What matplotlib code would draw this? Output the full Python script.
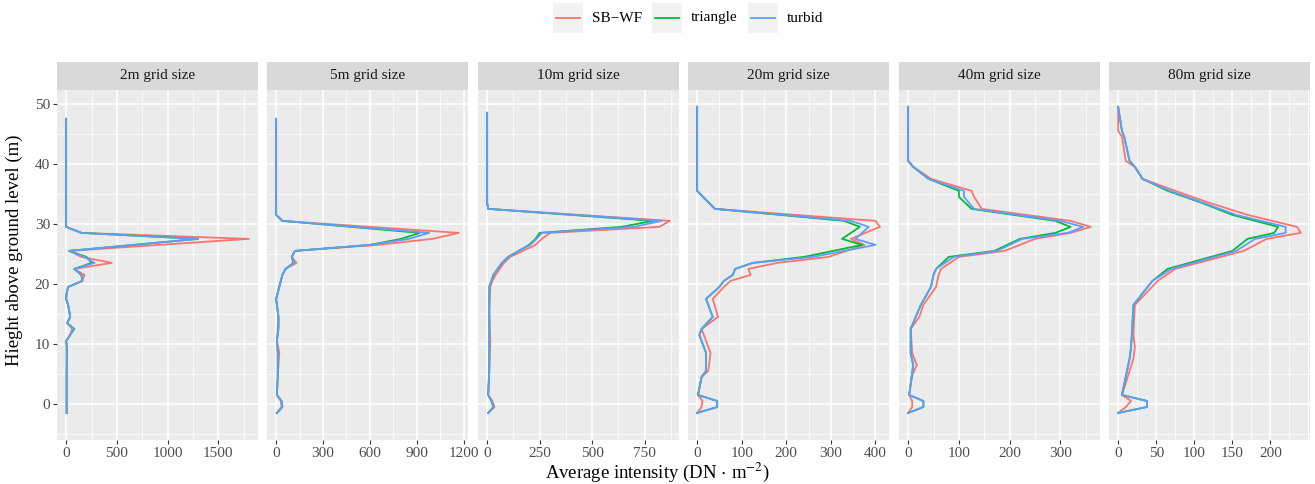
import numpy as np
import matplotlib.pyplot as plt
from matplotlib.ticker import MultipleLocator
from matplotlib.lines import Line2D
from matplotlib.patches import Rectangle

plt.rcParams["font.family"] = ["Liberation Serif", "DejaVu Serif"]
plt.rcParams["mathtext.fontset"] = "stix"
plt.rcParams["font.size"] = 11

series = ["SB\u2212WF", "triangle", "turbid"]
colors = ["#F8766D", "#00BA38", "#619CFF"]
panels = ["2m grid size", "5m grid size", "10m grid size",
          "20m grid size", "40m grid size", "80m grid size"]
xticks = [[0, 500, 1000, 1500], [0, 300, 600, 900, 1200], [0, 250, 500, 750],
          [0, 100, 200, 300, 400], [0, 100, 200, 300], [0, 50, 100, 150, 200]]

# 2m
h2 = [47.5, 29.5, 28.5, 27.5, 25.5, 24.5, 23.5, 22.5, 21.5, 20.5, 19.5, 18.5, 17.5,
      16.5, 15.5, 14.5, 13.5, 12.5, 11.5, 10.5, 9.5, 5, -0.5, -1.5]
v2_sb = [0, 0, 150, 1800, 30, 150, 450, 80, 180, 160, 20, 5, 0, 20, 30, 40, 10, 60, 40, 0, 10, 5, 5, 5]
v2_tr = [0, 0, 150, 1300, 30, 200, 250, 80, 150, 160, 20, 5, 0, 20, 30, 40, 10, 80, 40, 0, 5, 5, 5, 5]
v2_tu = [0, 0, 150, 1300, 30, 180, 280, 80, 150, 160, 20, 5, 0, 20, 30, 40, 10, 70, 40, 0, 5, 5, 5, 5]
# 5m
h5 = [47.5, 31.5, 30.5, 28.5, 27.5, 26.5, 25.5, 24.5, 23.5, 22.5, 21.5, 20.5, 19.5, 18.5,
      17.5, 14.5, 12.5, 10.5, 8.5, 4.5, 1.5, 0.5, -0.5, -1.5]
v5_sb = [0, 0, 40, 1170, 1000, 650, 120, 100, 130, 60, 40, 30, 20, 10, 0, 15, 10, 5, 20, 10, 5, 30, 35, 5]
v5_tr = [0, 0, 40, 920, 800, 600, 120, 100, 110, 60, 40, 30, 20, 10, 0, 15, 15, 5, 10, 10, 5, 35, 40, 5]
v5_tu = [0, 0, 40, 980, 850, 600, 120, 100, 115, 60, 40, 30, 20, 10, 0, 15, 15, 5, 10, 10, 5, 35, 40, 5]
# 10m
h10 = [48.5, 33.5, 32.5, 30.5, 29.5, 28.5, 27.5, 26.5, 25.5, 24.5, 23.5, 22.5, 21.5, 20.5,
       19.5, 15.5, 10.5, 5.5, 1.5, 0.5, -0.5, -1.5]
v10_sb = [0, 0, 5, 870, 820, 300, 260, 230, 170, 110, 80, 60, 40, 25, 15, 10, 15, 10, 5, 25, 35, 5]
v10_tr = [0, 0, 5, 790, 640, 250, 230, 200, 150, 100, 70, 50, 30, 20, 10, 10, 10, 10, 5, 20, 30, 5]
v10_tu = [0, 0, 5, 830, 700, 260, 235, 205, 150, 100, 70, 50, 30, 20, 10, 10, 10, 10, 5, 20, 30, 5]
# 20m
h20 = [49.5, 35.5, 32.5, 30.5, 29.5, 27.5, 26.5, 24.5, 23.5, 22.5, 21.5, 20.5, 19.5,
       17.5, 14.5, 12.5, 11.5, 8.5, 5.5, 4.5, 1.5, 0.5, -0.5, -1.5]
v20_sb = [0, 0, 40, 400, 410, 345, 375, 295, 180, 115, 120, 75, 60, 35, 47, 10, 15, 30, 25, 10, 2, 12, 10, 0]
v20_tr = [0, 0, 40, 330, 365, 325, 370, 240, 125, 85, 80, 60, 50, 20, 35, 10, 5, 20, 20, 10, 2, 45, 45, 0]
v20_tu = [0, 0, 40, 345, 385, 355, 400, 260, 125, 85, 80, 60, 50, 20, 35, 10, 5, 20, 20, 10, 2, 45, 45, 0]
# 40m
h40 = [49.5, 40.5, 39.5, 37.5, 35.5, 34.5, 32.5, 30.5, 29.5, 28.5, 27.5, 25.5, 24.5,
       22.5, 21.5, 19.5, 16.5, 14.5, 12.5, 8.5, 6.5, 4.5, 1.5, 0.5, -0.5, -1.5]
v40_sb = [0, 0, 10, 45, 125, 130, 145, 320, 360, 320, 250, 190, 100, 65, 60, 55, 30, 22, 5, 8, 17, 7, 2, 8, 8, 0]
v40_tr = [0, 0, 10, 40, 100, 100, 125, 290, 320, 290, 220, 170, 80, 55, 50, 45, 25, 15, 5, 5, 10, 7, 2, 30, 30, 0]
v40_tu = [0, 0, 10, 40, 110, 110, 130, 300, 345, 315, 225, 175, 90, 55, 50, 45, 25, 15, 5, 5, 10, 7, 2, 30, 30, 0]
# 80m
h80 = [49.5, 45.5, 44.5, 40.5, 39.5, 37.5, 35.5, 33.5, 31.5, 29.5, 28.5, 27.5, 25.5,
       22.5, 20.5, 16.5, 11.5, 9.5, 7.5, 1.5, 0.5, -0.5, -1.5]
v80_sb = [0, 0, 5, 10, 22, 32, 75, 120, 170, 235, 240, 195, 165, 75, 52, 22, 20, 22, 20, 5, 17, 10, 0]
v80_tr = [0, 5, 8, 15, 22, 32, 65, 110, 150, 210, 205, 170, 150, 65, 45, 20, 18, 17, 15, 5, 38, 38, 0]
v80_tu = [0, 5, 8, 15, 22, 32, 68, 112, 155, 220, 220, 180, 155, 70, 45, 20, 18, 17, 15, 5, 38, 38, 0]

heights = [h2, h5, h10, h20, h40, h80]
values = [[v2_sb, v2_tr, v2_tu], [v5_sb, v5_tr, v5_tu], [v10_sb, v10_tr, v10_tu],
          [v20_sb, v20_tr, v20_tu], [v40_sb, v40_tr, v40_tu], [v80_sb, v80_tr, v80_tu]]

fig = plt.figure(figsize=(13.15, 4.84), dpi=100)
W, H = 1315, 484
lefts = [57, 267, 478, 688, 899, 1109]
pw = 201
top, bottom, strip = 90, 440, 28

for i, (name, h, vals) in enumerate(zip(panels, heights, values)):
    ax = fig.add_axes([lefts[i] / W, 1 - bottom / H, pw / W, (bottom - top) / H])
    ax.set_facecolor("#EBEBEB")
    for v, c in zip(vals, colors):
        ax.plot(v, h, color=c, lw=1.3)
    ax.set_ylim(-6, 52.3)
    ax.margins(x=0.05)
    ax.set_xticks(xticks[i])
    ax.yaxis.set_major_locator(MultipleLocator(10))
    ax.yaxis.set_minor_locator(MultipleLocator(5))
    xt = xticks[i]
    ax.xaxis.set_minor_locator(MultipleLocator((xt[1] - xt[0]) / 2))
    ax.grid(which="major", color="white", lw=1.1)
    ax.grid(which="minor", color="white", lw=0.5)
    ax.set_axisbelow(True)
    for s in ax.spines.values():
        s.set_visible(False)
    ax.tick_params(which="minor", length=0)
    ax.tick_params(which="major", length=3, pad=2, color="#333333", labelcolor="#4D4D4D", labelsize=11)
    if i > 0:
        ax.tick_params(axis="y", left=False, labelleft=False)
    sax = fig.add_axes([lefts[i] / W, 1 - top / H, pw / W, strip / H])
    sax.set_facecolor("#D9D9D9")
    sax.set_xticks([]); sax.set_yticks([])
    for s in sax.spines.values():
        s.set_visible(False)
    sax.text(0.5, 0.5, name, ha="center", va="center", fontsize=11, color="#1A1A1A",
             transform=sax.transAxes)

fig.text(0.5, 1 - 472 / H, r"Average intensity (DN$\,\cdot\,$m$^{-2}$)", ha="center", va="center", fontsize=13.5)
fig.text(14 / W, 1 - 250 / H, "Hieght above ground level (m)", rotation=90, ha="center", va="center", fontsize=13.5)

# legend drawn as ggplot-style keys
key_x = [553, 652, 748]
for kx, c, s in zip(key_x, colors, series):
    fig.patches.append(Rectangle((kx / W, 1 - 33 / H), 30 / W, 30 / H, transform=fig.transFigure,
                                 facecolor="#F2F2F2", edgecolor="none"))
    fig.lines.append(Line2D([(kx + 3) / W, (kx + 27) / W], [1 - 18 / H] * 2, transform=fig.transFigure,
                            color=c, lw=1.3))
    fig.text((kx + 39) / W, 1 - 18 / H, s, ha="left", va="center", fontsize=11)

fig.savefig("out.png", dpi=100)
